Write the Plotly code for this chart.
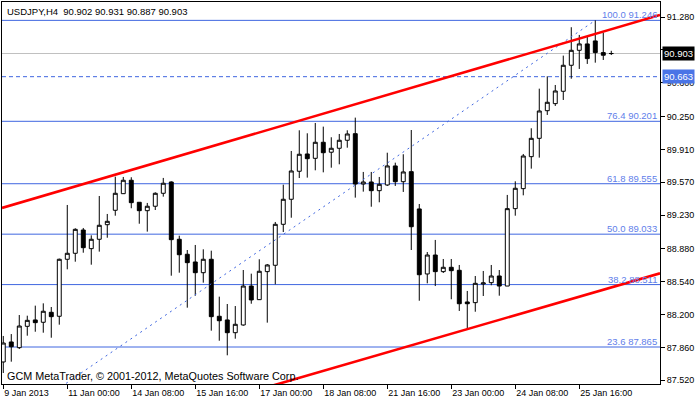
import plotly.graph_objects as go

# ---------------- data ----------------
bar_index = list(range(77))
opens = [87.710, 87.917, 87.858, 88.079, 88.145, 88.121, 88.224, 88.183, 88.773, 88.835,
         89.076, 88.883, 88.980, 89.131, 89.280, 89.452, 89.591, 89.363, 89.276, 89.322,
         89.456, 89.573, 88.980, 88.825, 88.745, 88.634, 88.773, 88.183, 88.145, 88.013,
         88.093, 88.496, 88.355, 88.645, 88.711, 89.135, 89.394, 89.684, 89.863, 89.818,
         89.984, 89.881, 89.922, 90.005, 90.073, 89.552, 89.573, 89.483, 89.542, 89.739,
         89.576, 89.680, 89.294, 88.621, 88.817, 88.645, 88.690, 88.659, 88.331, 88.324,
         88.517, 88.531, 88.600, 88.496, 89.297, 89.504, 89.835, 90.025, 90.311, 90.384,
         90.512, 90.781, 90.936, 91.002, 91.033, 90.912, 90.902]
highs = [87.979, 87.999, 88.196, 88.189, 88.293, 88.317, 88.279, 88.780, 89.335, 89.094,
         89.097, 89.021, 89.428, 89.242, 89.628, 89.625, 89.622, 89.363, 89.356, 89.466,
         89.615, 89.580, 89.017, 88.869, 88.921, 88.876, 88.862, 88.386, 88.310, 88.289,
         88.662, 88.624, 88.773, 88.724, 89.159, 89.545, 89.894, 90.108, 90.077, 90.184,
         90.146, 90.036, 90.070, 90.108, 90.239, 89.677, 89.677, 89.625, 89.876, 89.773,
         89.860, 90.111, 89.345, 88.848, 88.973, 88.776, 88.776, 88.714, 88.445, 88.600,
         88.652, 88.714, 88.662, 89.439, 89.580, 89.863, 90.129, 90.539, 90.667, 90.577,
         90.881, 91.175, 91.095, 91.077, 91.246, 91.119, 90.931]
lows = [87.596, 87.713, 87.844, 87.982, 88.023, 88.013, 87.961, 88.096, 88.669, 88.748,
        88.841, 88.717, 88.852, 88.996, 89.224, 89.449, 89.301, 89.141, 89.059, 89.283,
        89.421, 88.603, 88.634, 88.272, 88.396, 88.531, 88.034, 87.930, 87.779, 87.951,
        88.085, 88.313, 88.352, 88.117, 88.514, 89.055, 89.203, 89.614, 89.618, 89.694,
        89.673, 89.721, 89.756, 89.928, 89.411, 89.473, 89.317, 89.363, 89.532, 89.532,
        89.470, 88.869, 88.344, 88.524, 88.496, 88.631, 88.359, 88.238, 88.048, 88.230,
        88.393, 88.504, 88.396, 88.496, 89.224, 89.435, 89.711, 89.825, 90.267, 90.360,
        90.422, 90.642, 90.743, 90.795, 90.808, 90.836, 90.887]
closes = [87.906, 87.868, 88.082, 88.141, 88.117, 88.235, 88.179, 88.773, 88.835, 89.083,
          88.893, 88.980, 89.125, 89.166, 89.456, 89.591, 89.359, 89.276, 89.322, 89.456,
          89.560, 88.976, 88.820, 88.738, 88.634, 88.773, 88.179, 88.137, 88.013, 88.100,
          88.496, 88.352, 88.649, 88.714, 89.135, 89.394, 89.687, 89.860, 89.814, 89.984,
          89.876, 89.922, 90.005, 90.070, 89.552, 89.573, 89.483, 89.549, 89.739, 89.576,
          89.677, 89.110, 88.613, 88.817, 88.645, 88.690, 88.655, 88.313, 88.313, 88.524,
          88.528, 88.600, 88.496, 89.297, 89.508, 89.842, 90.025, 90.308, 90.398, 90.515,
          90.781, 90.936, 91.002, 90.850, 90.912, 90.885, 90.903]

x_tick_bars = [0, 8, 16, 24, 32, 40, 48, 56, 64, 72]
x_tick_labels = ["9 Jan 2013", "11 Jan 00:00", "14 Jan 08:00", "15 Jan 16:00", "17 Jan 00:00",
                 "18 Jan 08:00", "21 Jan 16:00", "23 Jan 00:00", "24 Jan 08:00", "25 Jan 16:00"]
y_tick_values = [87.52, 87.86, 88.20, 88.54, 88.88, 89.23, 89.57, 89.91, 90.25, 90.60, 90.94, 91.28]

fib_pcts = ["23.6", "38.2", "50.0", "61.8", "76.4", "100.0"]
fib_prices = [87.865, 88.511, 89.033, 89.555, 90.201, 91.246]
fib_diag_bars = [-3.9, 74]
fib_diag_prices = [86.821, 91.246]

channel_upper_bars = [-0.16, 82.09]
channel_upper_prices = [89.305, 91.302]
channel_lower_bars = [-0.16, 82.09]
channel_lower_prices = [86.654, 88.628]

bid_price = 90.903
hline_price = 90.663
title_text = "USDJPY,H4  90.902 90.931 90.887 90.903"
copyright_text = "GCM MetaTrader, © 2001-2012, MetaQuotes Software Corp."

# ---------------- figure ----------------
FONT = "Liberation Sans, Arial, sans-serif"
BLUE = "#3f66e0"
LABEL_BLUE = "#5f80ea"

fig = go.Figure()
fig.add_trace(go.Candlestick(
    x=bar_index, open=opens, high=highs, low=lows, close=closes,
    increasing=dict(line=dict(color="black", width=1), fillcolor="white"),
    decreasing=dict(line=dict(color="black", width=1), fillcolor="black"),
    whiskerwidth=0, hoverinfo="skip", showlegend=False,
))
fig.add_trace(go.Scatter(x=fib_diag_bars, y=fib_diag_prices, mode="lines",
                         line=dict(color=BLUE, width=1, dash="2px,4px"),
                         hoverinfo="skip", showlegend=False))
fig.add_trace(go.Scatter(x=channel_upper_bars, y=channel_upper_prices, mode="lines",
                         line=dict(color="#ff0000", width=2.6), hoverinfo="skip", showlegend=False))
fig.add_trace(go.Scatter(x=channel_lower_bars, y=channel_lower_prices, mode="lines",
                         line=dict(color="#ff0000", width=2.6), hoverinfo="skip", showlegend=False))

shapes = []
for p in fib_prices:
    shapes.append(dict(type="line", xref="paper", x0=0, x1=1, yref="y", y0=p, y1=p,
                       line=dict(color=BLUE, width=1), layer="below"))
shapes.append(dict(type="line", xref="paper", x0=0, x1=1, yref="y", y0=bid_price, y1=bid_price,
                   line=dict(color="#c0c0c0", width=1), layer="below"))
shapes.append(dict(type="line", xref="paper", x0=0, x1=1, yref="y", y0=hline_price, y1=hline_price,
                   line=dict(color=BLUE, width=1, dash="4px,3px"), layer="below"))

annotations = []
for pct, p in zip(fib_pcts, fib_prices):
    annotations.append(dict(xref="paper", x=1, xanchor="right", xshift=-1, yref="y", y=p,
                            yanchor="bottom", yshift=-2, text=f"{pct} {p:.3f}", showarrow=False,
                            font=dict(family=FONT, size=9.5, color=LABEL_BLUE)))
annotations.append(dict(xref="paper", x=1, xanchor="left", xshift=2, yref="y", y=bid_price,
                        yanchor="middle", text=f"{bid_price:.3f}", showarrow=False, bgcolor="black",
                        borderpad=1, font=dict(family=FONT, size=9.5, color="white")))
annotations.append(dict(xref="paper", x=1, xanchor="left", xshift=2, yref="y", y=hline_price,
                        yanchor="middle", text=f"{hline_price:.3f}", showarrow=False, bgcolor="#4a74e6",
                        borderpad=1, font=dict(family=FONT, size=9.5, color="white")))
annotations.append(dict(xref="paper", x=0, xanchor="left", xshift=3, yref="paper", y=1,
                        yanchor="top", yshift=-2, text=title_text, showarrow=False,
                        font=dict(family=FONT, size=9.5, color="black")))
annotations.append(dict(xref="paper", x=0, xanchor="left", xshift=3, yref="paper", y=0,
                        yanchor="bottom", yshift=0, text=copyright_text, showarrow=False,
                        font=dict(family=FONT, size=10.8, color="black")))

fig.update_layout(
    width=700, height=402,
    margin=dict(l=2, r=40, t=2, b=18),
    paper_bgcolor="white", plot_bgcolor="white",
    font=dict(family=FONT, size=9, color="black"),
    shapes=shapes, annotations=annotations,
    showlegend=False,
)
fig.update_xaxes(
    range=[-0.16, 82.09], rangeslider=dict(visible=False),
    tickmode="array", tickvals=x_tick_bars, ticktext=x_tick_labels,
    ticks="outside", ticklen=4, tickcolor="black", ticklabelposition="outside right",
    showgrid=False, zeroline=False, showline=True, linecolor="black", linewidth=1, mirror=True,
    tickfont=dict(family=FONT, size=9, color="black"),
)
fig.update_yaxes(
    range=[87.482, 91.436], side="right",
    tickmode="array", tickvals=y_tick_values, ticktext=[f"{v:.3f}" for v in y_tick_values],
    ticks="outside", ticklen=4, tickcolor="black",
    showgrid=False, zeroline=False, showline=True, linecolor="black", linewidth=1, mirror=True,
    tickfont=dict(family=FONT, size=9, color="black"),
)

fig.write_html("out.html", config={"displayModeBar": False},
               post_script="document.body.style.margin='0';document.body.style.overflow='hidden';")
